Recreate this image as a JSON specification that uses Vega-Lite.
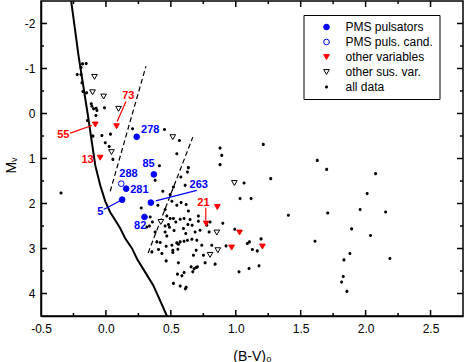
{
  "$schema": "https://vega.github.io/schema/vega-lite/v6.json",
  "width": 422,
  "height": 315,
  "autosize": {"type": "none"},
  "padding": {"left": 41, "top": 1, "right": 2, "bottom": 46},
  "background": "white",
  "config": {
    "font": "Liberation Sans",
    "view": {"stroke": "black", "strokeWidth": 1.5},
    "axis": {"grid": false, "labelFont": "Liberation Sans", "labelFontSize": 12, "labelColor": "black", "tickColor": "black", "domainColor": "black", "domainWidth": 1.5, "tickWidth": 1.2, "titleFont": "Liberation Sans", "titleFontWeight": "normal", "titleColor": "black", "titleFontSize": 14, "labelFlush": false, "labelOverlap": false}
  },
  "datasets": {
    "xmaj": [{"v": 0}, {"v": 0.5}, {"v": 1}, {"v": 1.5}, {"v": 2}, {"v": 2.5}],
    "xmin": [{"v": -0.25}, {"v": 0.25}, {"v": 0.75}, {"v": 1.25}, {"v": 1.75}, {"v": 2.25}],
    "ymaj": [{"v": -2}, {"v": -1}, {"v": 0}, {"v": 1}, {"v": 2}, {"v": 3}, {"v": 4}],
    "ymin": [{"v": -1.5}, {"v": -0.5}, {"v": 0.5}, {"v": 1.5}, {"v": 2.5}, {"v": 3.5}],
    "pts": [
      {"bv": -0.180, "mv": -1.102, "type": "all data"},
      {"bv": -0.152, "mv": -1.109, "type": "all data"},
      {"bv": -0.192, "mv": -1.020, "type": "all data"},
      {"bv": -0.221, "mv": -0.865, "type": "all data"},
      {"bv": -0.192, "mv": -0.865, "type": "all data"},
      {"bv": -0.185, "mv": -0.681, "type": "all data"},
      {"bv": -0.177, "mv": -0.488, "type": "all data"},
      {"bv": -0.149, "mv": -0.459, "type": "all data"},
      {"bv": -0.113, "mv": -0.215, "type": "all data"},
      {"bv": -0.108, "mv": -0.162, "type": "all data"},
      {"bv": -0.075, "mv": -0.118, "type": "all data"},
      {"bv": -0.095, "mv": -0.104, "type": "all data"},
      {"bv": -0.069, "mv": -0.067, "type": "all data"},
      {"bv": -0.077, "mv": 0.044, "type": "all data"},
      {"bv": -0.011, "mv": -0.126, "type": "all data"},
      {"bv": -0.142, "mv": 0.155, "type": "all data"},
      {"bv": 0.035, "mv": 0.459, "type": "all data"},
      {"bv": -0.031, "mv": 0.488, "type": "all data"},
      {"bv": -0.100, "mv": 0.503, "type": "all data"},
      {"bv": -0.005, "mv": 0.650, "type": "all data"},
      {"bv": 0.025, "mv": 0.732, "type": "all data"},
      {"bv": 0.054, "mv": 1.020, "type": "all data"},
      {"bv": 0.205, "mv": 0.339, "type": "all data"},
      {"bv": 0.451, "mv": 0.355, "type": "all data"},
      {"bv": 0.566, "mv": 0.599, "type": "all data"},
      {"bv": 0.546, "mv": 0.894, "type": "all data"},
      {"bv": 0.635, "mv": 1.204, "type": "all data"},
      {"bv": 0.879, "mv": 0.769, "type": "all data"},
      {"bv": 0.892, "mv": 0.931, "type": "all data"},
      {"bv": 0.879, "mv": 1.137, "type": "all data"},
      {"bv": 1.212, "mv": 0.687, "type": "all data"},
      {"bv": 0.412, "mv": 1.160, "type": "all data"},
      {"bv": 0.628, "mv": 1.302, "type": "all data"},
      {"bv": 0.577, "mv": 1.412, "type": "all data"},
      {"bv": 0.379, "mv": 1.486, "type": "all data"},
      {"bv": 0.610, "mv": 1.596, "type": "all data"},
      {"bv": 0.520, "mv": 1.634, "type": "all data"},
      {"bv": 0.438, "mv": 1.729, "type": "all data"},
      {"bv": 0.495, "mv": 1.803, "type": "all data"},
      {"bv": 0.508, "mv": 1.951, "type": "all data"},
      {"bv": 0.400, "mv": 2.040, "type": "all data"},
      {"bv": 0.272, "mv": 2.100, "type": "all data"},
      {"bv": 0.456, "mv": 2.135, "type": "all data"},
      {"bv": 0.546, "mv": 2.040, "type": "all data"},
      {"bv": 0.579, "mv": 1.980, "type": "all data"},
      {"bv": 0.618, "mv": 2.024, "type": "all data"},
      {"bv": 0.635, "mv": 2.166, "type": "all data"},
      {"bv": 0.712, "mv": 2.277, "type": "all data"},
      {"bv": 0.341, "mv": 2.299, "type": "all data"},
      {"bv": 0.469, "mv": 2.277, "type": "all data"},
      {"bv": 0.495, "mv": 2.335, "type": "all data"},
      {"bv": 0.520, "mv": 2.335, "type": "all data"},
      {"bv": 0.572, "mv": 2.350, "type": "all data"},
      {"bv": 0.602, "mv": 2.335, "type": "all data"},
      {"bv": 0.648, "mv": 2.357, "type": "all data"},
      {"bv": 0.358, "mv": 2.410, "type": "all data"},
      {"bv": 0.335, "mv": 2.499, "type": "all data"},
      {"bv": 0.456, "mv": 2.499, "type": "all data"},
      {"bv": 0.482, "mv": 2.468, "type": "all data"},
      {"bv": 0.489, "mv": 2.528, "type": "all data"},
      {"bv": 0.538, "mv": 2.410, "type": "all data"},
      {"bv": 0.631, "mv": 2.468, "type": "all data"},
      {"bv": 0.664, "mv": 2.483, "type": "all data"},
      {"bv": 0.712, "mv": 2.395, "type": "all data"},
      {"bv": 0.802, "mv": 2.410, "type": "all data"},
      {"bv": 0.900, "mv": 2.439, "type": "all data"},
      {"bv": 0.525, "mv": 2.601, "type": "all data"},
      {"bv": 0.597, "mv": 2.557, "type": "all data"},
      {"bv": 0.615, "mv": 2.667, "type": "all data"},
      {"bv": 0.687, "mv": 2.632, "type": "all data"},
      {"bv": 0.725, "mv": 2.594, "type": "all data"},
      {"bv": 0.795, "mv": 2.632, "type": "all data"},
      {"bv": 0.662, "mv": 2.794, "type": "all data"},
      {"bv": 0.700, "mv": 2.816, "type": "all data"},
      {"bv": 0.469, "mv": 2.721, "type": "all data"},
      {"bv": 0.418, "mv": 2.867, "type": "all data"},
      {"bv": 0.508, "mv": 2.927, "type": "all data"},
      {"bv": 0.572, "mv": 2.854, "type": "all data"},
      {"bv": 0.777, "mv": 2.483, "type": "all data"},
      {"bv": 1.033, "mv": 1.891, "type": "all data"},
      {"bv": 1.118, "mv": 1.891, "type": "all data"},
      {"bv": 1.064, "mv": 1.545, "type": "all data"},
      {"bv": 1.269, "mv": 1.448, "type": "all data"},
      {"bv": 1.628, "mv": 1.042, "type": "all data"},
      {"bv": 1.700, "mv": 1.242, "type": "all data"},
      {"bv": 2.077, "mv": 1.337, "type": "all data"},
      {"bv": 1.405, "mv": 2.262, "type": "all data"},
      {"bv": 0.405, "mv": 3.022, "type": "all data"},
      {"bv": 0.431, "mv": 3.111, "type": "all data"},
      {"bv": 0.464, "mv": 2.949, "type": "all data"},
      {"bv": 0.515, "mv": 3.038, "type": "all data"},
      {"bv": 0.515, "mv": 3.089, "type": "all data"},
      {"bv": 0.546, "mv": 2.876, "type": "all data"},
      {"bv": 0.558, "mv": 2.905, "type": "all data"},
      {"bv": 0.602, "mv": 2.838, "type": "all data"},
      {"bv": 0.628, "mv": 2.816, "type": "all data"},
      {"bv": 0.554, "mv": 3.016, "type": "all data"},
      {"bv": 0.695, "mv": 3.038, "type": "all data"},
      {"bv": 0.674, "mv": 3.149, "type": "all data"},
      {"bv": 0.751, "mv": 3.149, "type": "all data"},
      {"bv": 0.815, "mv": 2.927, "type": "all data"},
      {"bv": 0.925, "mv": 2.942, "type": "all data"},
      {"bv": 0.841, "mv": 3.348, "type": "all data"},
      {"bv": 0.764, "mv": 3.319, "type": "all data"},
      {"bv": 0.558, "mv": 3.319, "type": "all data"},
      {"bv": 0.464, "mv": 3.275, "type": "all data"},
      {"bv": 0.656, "mv": 3.408, "type": "all data"},
      {"bv": 0.679, "mv": 3.452, "type": "all data"},
      {"bv": 0.695, "mv": 3.421, "type": "all data"},
      {"bv": 0.705, "mv": 3.408, "type": "all data"},
      {"bv": 0.669, "mv": 3.519, "type": "all data"},
      {"bv": 0.602, "mv": 3.532, "type": "all data"},
      {"bv": 0.551, "mv": 3.570, "type": "all data"},
      {"bv": 0.585, "mv": 3.608, "type": "all data"},
      {"bv": 0.520, "mv": 3.776, "type": "all data"},
      {"bv": 0.572, "mv": 3.836, "type": "all data"},
      {"bv": 0.618, "mv": 3.865, "type": "all data"},
      {"bv": 0.612, "mv": 3.896, "type": "all data"},
      {"bv": 1.025, "mv": 3.519, "type": "all data"},
      {"bv": 1.102, "mv": 3.443, "type": "all data"},
      {"bv": 1.089, "mv": 2.889, "type": "all data"},
      {"bv": 1.128, "mv": 3.022, "type": "all data"},
      {"bv": 1.166, "mv": 3.053, "type": "all data"},
      {"bv": 1.179, "mv": 3.386, "type": "all data"},
      {"bv": 0.992, "mv": 2.572, "type": "all data"},
      {"bv": 1.195, "mv": 2.787, "type": "all data"},
      {"bv": 1.105, "mv": 2.854, "type": "all data"},
      {"bv": 0.315, "mv": 2.521, "type": "all data"},
      {"bv": 0.379, "mv": 2.632, "type": "all data"},
      {"bv": 0.456, "mv": 2.632, "type": "all data"},
      {"bv": 0.392, "mv": 2.854, "type": "all data"},
      {"bv": 0.354, "mv": 3.075, "type": "all data"},
      {"bv": 0.738, "mv": 2.927, "type": "all data"},
      {"bv": 1.610, "mv": 2.838, "type": "all data"},
      {"bv": 1.708, "mv": 2.211, "type": "all data"},
      {"bv": 2.012, "mv": 1.780, "type": "all data"},
      {"bv": 1.958, "mv": 2.135, "type": "all data"},
      {"bv": 2.154, "mv": 2.188, "type": "all data"},
      {"bv": 1.892, "mv": 2.565, "type": "all data"},
      {"bv": 2.038, "mv": 2.712, "type": "all data"},
      {"bv": 1.879, "mv": 3.111, "type": "all data"},
      {"bv": 1.833, "mv": 3.253, "type": "all data"},
      {"bv": 2.187, "mv": 3.222, "type": "all data"},
      {"bv": 1.828, "mv": 3.621, "type": "all data"},
      {"bv": 1.815, "mv": 3.747, "type": "all data"},
      {"bv": 1.856, "mv": 3.953, "type": "all data"},
      {"bv": -0.346, "mv": 1.767, "type": "all data"},
      {"bv": -0.088, "mv": -0.814, "type": "other sus. var."},
      {"bv": -0.103, "mv": -0.472, "type": "other sus. var."},
      {"bv": -0.018, "mv": -0.377, "type": "other sus. var."},
      {"bv": 0.097, "mv": -0.104, "type": "other sus. var."},
      {"bv": 0.043, "mv": 0.858, "type": "other sus. var."},
      {"bv": 0.515, "mv": 0.525, "type": "other sus. var."},
      {"bv": 0.989, "mv": 1.545, "type": "other sus. var."},
      {"bv": 0.423, "mv": 2.410, "type": "other sus. var."},
      {"bv": 0.854, "mv": 2.645, "type": "other sus. var."},
      {"bv": 0.862, "mv": 3.038, "type": "other sus. var."},
      {"bv": 0.802, "mv": 3.142, "type": "other sus. var."},
      {"bv": -0.082, "mv": 0.244, "type": "other variables"},
      {"bv": 0.082, "mv": 0.282, "type": "other variables"},
      {"bv": -0.044, "mv": 0.982, "type": "other variables"},
      {"bv": 0.772, "mv": 2.446, "type": "other variables"},
      {"bv": 0.858, "mv": 2.078, "type": "other variables"},
      {"bv": 1.029, "mv": 2.645, "type": "other variables"},
      {"bv": 0.968, "mv": 2.978, "type": "other variables"},
      {"bv": 1.205, "mv": 2.956, "type": "other variables"},
      {"bv": 0.118, "mv": 1.559, "type": "PMS puls. cand."},
      {"bv": 0.237, "mv": 0.517, "type": "PMS pulsators"},
      {"bv": 0.369, "mv": 1.353, "type": "PMS pulsators"},
      {"bv": 0.156, "mv": 1.670, "type": "PMS pulsators"},
      {"bv": 0.125, "mv": 1.914, "type": "PMS pulsators"},
      {"bv": 0.346, "mv": 1.980, "type": "PMS pulsators"},
      {"bv": 0.297, "mv": 2.299, "type": "PMS pulsators"}
    ],
    "curve": [
      {"bv": -0.270, "mv": -2.55},
      {"bv": -0.211, "mv": -1.286},
      {"bv": -0.141, "mv": 0.0},
      {"bv": -0.082, "mv": 1.153},
      {"bv": -0.044, "mv": 1.596},
      {"bv": -0.005, "mv": 1.951},
      {"bv": 0.033, "mv": 2.195},
      {"bv": 0.072, "mv": 2.373},
      {"bv": 0.110, "mv": 2.550},
      {"bv": 0.148, "mv": 2.772},
      {"bv": 0.200, "mv": 2.993},
      {"bv": 0.241, "mv": 3.237},
      {"bv": 0.302, "mv": 3.525},
      {"bv": 0.364, "mv": 3.814},
      {"bv": 0.402, "mv": 4.058},
      {"bv": 0.433, "mv": 4.257},
      {"bv": 0.477, "mv": 4.55}
    ],
    "dashed": [
      {"id": "blue edge", "bv": 0.308, "mv": -1.049},
      {"id": "blue edge", "bv": 0.033, "mv": 1.729},
      {"id": "red edge", "bv": 0.669, "mv": 0.525},
      {"id": "red edge", "bv": 0.325, "mv": 3.098}
    ],
    "conn": [
      {"grp": "var", "bv": -0.275, "mv": 0.437, "bv2": -0.108, "mv2": 0.266},
      {"grp": "var", "bv": 0.154, "mv": -0.266, "bv2": 0.087, "mv2": 0.177},
      {"grp": "var", "bv": 0.769, "mv": 2.095, "bv2": 0.769, "mv2": 2.373},
      {"grp": "pms", "bv": -0.018, "mv": 2.135, "bv2": 0.110, "mv2": 1.940},
      {"grp": "pms", "bv": 0.383, "mv": 1.940, "bv2": 0.700, "mv2": 1.707}
    ],
    "labels": [
      {"grp": "var", "bv": 0.172, "mv": -0.399, "t": "73"},
      {"grp": "var", "bv": -0.328, "mv": 0.488, "t": "55"},
      {"grp": "var", "bv": -0.141, "mv": 1.031, "t": "13"},
      {"grp": "var", "bv": 0.751, "mv": 1.996, "t": "21"},
      {"grp": "pms", "bv": 0.341, "mv": 0.377, "t": "278"},
      {"grp": "pms", "bv": 0.328, "mv": 1.124, "t": "85"},
      {"grp": "pms", "bv": 0.174, "mv": 1.337, "t": "288"},
      {"grp": "pms", "bv": 0.258, "mv": 1.701, "t": "281"},
      {"grp": "pms", "bv": 0.715, "mv": 1.579, "t": "263"},
      {"grp": "pms", "bv": -0.044, "mv": 2.180, "t": "5"},
      {"grp": "pms", "bv": 0.264, "mv": 2.494, "t": "82"}
    ]
  },
  "layer": [
    {
      "data": {"name": "curve"},
      "mark": {"type": "line", "color": "black", "strokeWidth": 2, "clip": true},
      "encoding": {
        "x": {"field": "bv", "type": "quantitative", "scale": {"domain": [-0.5, 2.75], "nice": false, "zero": false},
          "axis": {"orient": "bottom", "values": [-0.5, 0, 0.5, 1, 1.5, 2, 2.5], "ticks": false, "labelPadding": 7,
            "labelExpr": "datum.value < 0 ? '-' + format(-datum.value, '.1f') : format(datum.value, '.1f')",
            "title": "(B-V)₀", "titleY": 44, "titleBaseline": "alphabetic"}},
        "y": {"field": "mv", "type": "quantitative", "scale": {"domain": [-2.5, 4.5], "reverse": true, "nice": false, "zero": false},
          "axis": {"orient": "left", "values": [-2, -1, 0, 1, 2, 3, 4], "ticks": false, "labelPadding": 6,
            "labelExpr": "datum.value < 0 ? '-' + format(-datum.value, 'd') : format(datum.value, 'd')",
            "title": "Mᵥ", "titleX": -26, "titleY": 164, "titleBaseline": "alphabetic", "titleAngle": 270, "titleAlign": "center"}}
      }
    },
    {"data": {"name": "xmaj"}, "mark": {"type": "tick", "orient": "vertical", "color": "black", "thickness": 1.5, "size": 6, "yOffset": -3, "opacity": 1},
      "encoding": {"x": {"field": "v", "type": "quantitative"}, "y": {"datum": 4.5, "type": "quantitative"}}},
    {"data": {"name": "xmin"}, "mark": {"type": "tick", "orient": "vertical", "color": "black", "thickness": 1.5, "size": 3, "yOffset": -1.5, "opacity": 1},
      "encoding": {"x": {"field": "v", "type": "quantitative"}, "y": {"datum": 4.5, "type": "quantitative"}}},
    {"data": {"name": "xmaj"}, "mark": {"type": "tick", "orient": "vertical", "color": "black", "thickness": 1.5, "size": 6, "yOffset": 3, "opacity": 1},
      "encoding": {"x": {"field": "v", "type": "quantitative"}, "y": {"datum": -2.5, "type": "quantitative"}}},
    {"data": {"name": "xmin"}, "mark": {"type": "tick", "orient": "vertical", "color": "black", "thickness": 1.5, "size": 3, "yOffset": 1.5, "opacity": 1},
      "encoding": {"x": {"field": "v", "type": "quantitative"}, "y": {"datum": -2.5, "type": "quantitative"}}},
    {"data": {"name": "ymaj"}, "mark": {"type": "tick", "orient": "horizontal", "color": "black", "thickness": 1.5, "size": 6, "xOffset": 3, "opacity": 1},
      "encoding": {"y": {"field": "v", "type": "quantitative"}, "x": {"datum": -0.5, "type": "quantitative"}}},
    {"data": {"name": "ymin"}, "mark": {"type": "tick", "orient": "horizontal", "color": "black", "thickness": 1.5, "size": 3, "xOffset": 1.5, "opacity": 1},
      "encoding": {"y": {"field": "v", "type": "quantitative"}, "x": {"datum": -0.5, "type": "quantitative"}}},
    {"data": {"name": "ymaj"}, "mark": {"type": "tick", "orient": "horizontal", "color": "black", "thickness": 1.5, "size": 6, "xOffset": -3, "opacity": 1},
      "encoding": {"y": {"field": "v", "type": "quantitative"}, "x": {"datum": 2.75, "type": "quantitative"}}},
    {"data": {"name": "ymin"}, "mark": {"type": "tick", "orient": "horizontal", "color": "black", "thickness": 1.5, "size": 3, "xOffset": -1.5, "opacity": 1},
      "encoding": {"y": {"field": "v", "type": "quantitative"}, "x": {"datum": 2.75, "type": "quantitative"}}},
    {
      "data": {"name": "dashed"},
      "mark": {"type": "line", "color": "black", "strokeWidth": 1.2, "strokeDash": [5, 3]},
      "encoding": {
        "x": {"field": "bv", "type": "quantitative"},
        "y": {"field": "mv", "type": "quantitative"},
        "detail": {"field": "id"}
      }
    },
    {
      "data": {"name": "pts"},
      "mark": {"type": "point", "filled": true, "opacity": 1, "strokeWidth": 1, "size": 32},
      "encoding": {
        "x": {"field": "bv", "type": "quantitative"},
        "y": {"field": "mv", "type": "quantitative"},
        "shape": {"field": "type", "type": "nominal",
          "scale": {"domain": ["PMS pulsators", "PMS puls. cand.", "other variables", "other sus. var.", "all data"], "range": ["circle", "circle", "triangle-down", "triangle-down", "M0.55,0A0.55,0.55 0 1,1 -0.55,0A0.55,0.55 0 1,1 0.55,0Z"]},
          "legend": {"title": null, "orient": "none", "legendX": 262.5, "legendY": 14, "strokeColor": "black", "fillColor": "white", "padding": 6, "labelFontSize": 12, "labelFont": "Liberation Sans", "labelColor": "black", "symbolOffset": 11, "labelOffset": 13, "rowPadding": 3, "symbolSize": 32, "symbolStrokeWidth": 1}},
        "stroke": {"field": "type", "type": "nominal",
          "scale": {"domain": ["PMS pulsators", "PMS puls. cand.", "other variables", "other sus. var.", "all data"], "range": ["#0000ff", "#0000ff", "#ff0000", "#000000", "transparent"]},
          "legend": {"title": null, "orient": "none", "legendX": 262.5, "legendY": 14, "strokeColor": "black", "fillColor": "white", "padding": 6, "labelFontSize": 12, "labelFont": "Liberation Sans", "labelColor": "black", "symbolOffset": 11, "labelOffset": 13, "rowPadding": 3, "symbolSize": 32, "symbolStrokeWidth": 1}},
        "fill": {"field": "type", "type": "nominal",
          "scale": {"domain": ["PMS pulsators", "PMS puls. cand.", "other variables", "other sus. var.", "all data"], "range": ["#0000ff", "#ffffff", "#ff0000", "#ffffff", "#000000"]},
          "legend": {"title": null, "orient": "none", "legendX": 262.5, "legendY": 14, "strokeColor": "black", "fillColor": "white", "padding": 6, "labelFontSize": 12, "labelFont": "Liberation Sans", "labelColor": "black", "symbolOffset": 11, "labelOffset": 13, "rowPadding": 3, "symbolSize": 32, "symbolStrokeWidth": 1}}
      }
    },
    {
      "data": {"name": "conn"},
      "mark": {"type": "rule", "strokeWidth": 1.2},
      "encoding": {
        "x": {"field": "bv", "type": "quantitative"},
        "y": {"field": "mv", "type": "quantitative"},
        "x2": {"field": "bv2"},
        "y2": {"field": "mv2"},
        "color": {"field": "grp", "type": "nominal", "scale": {"domain": ["pms", "var"], "range": ["#0000ff", "#ff0000"]}, "legend": null}
      }
    },
    {
      "data": {"name": "labels"},
      "mark": {"type": "text", "fontWeight": "bold", "fontSize": 11, "font": "Liberation Sans", "align": "center", "baseline": "middle"},
      "encoding": {
        "x": {"field": "bv", "type": "quantitative"},
        "y": {"field": "mv", "type": "quantitative"},
        "text": {"field": "t"},
        "color": {"field": "grp", "type": "nominal", "scale": {"domain": ["pms", "var"], "range": ["#0000ff", "#ff0000"]}, "legend": null}
      }
    }
  ]
}
